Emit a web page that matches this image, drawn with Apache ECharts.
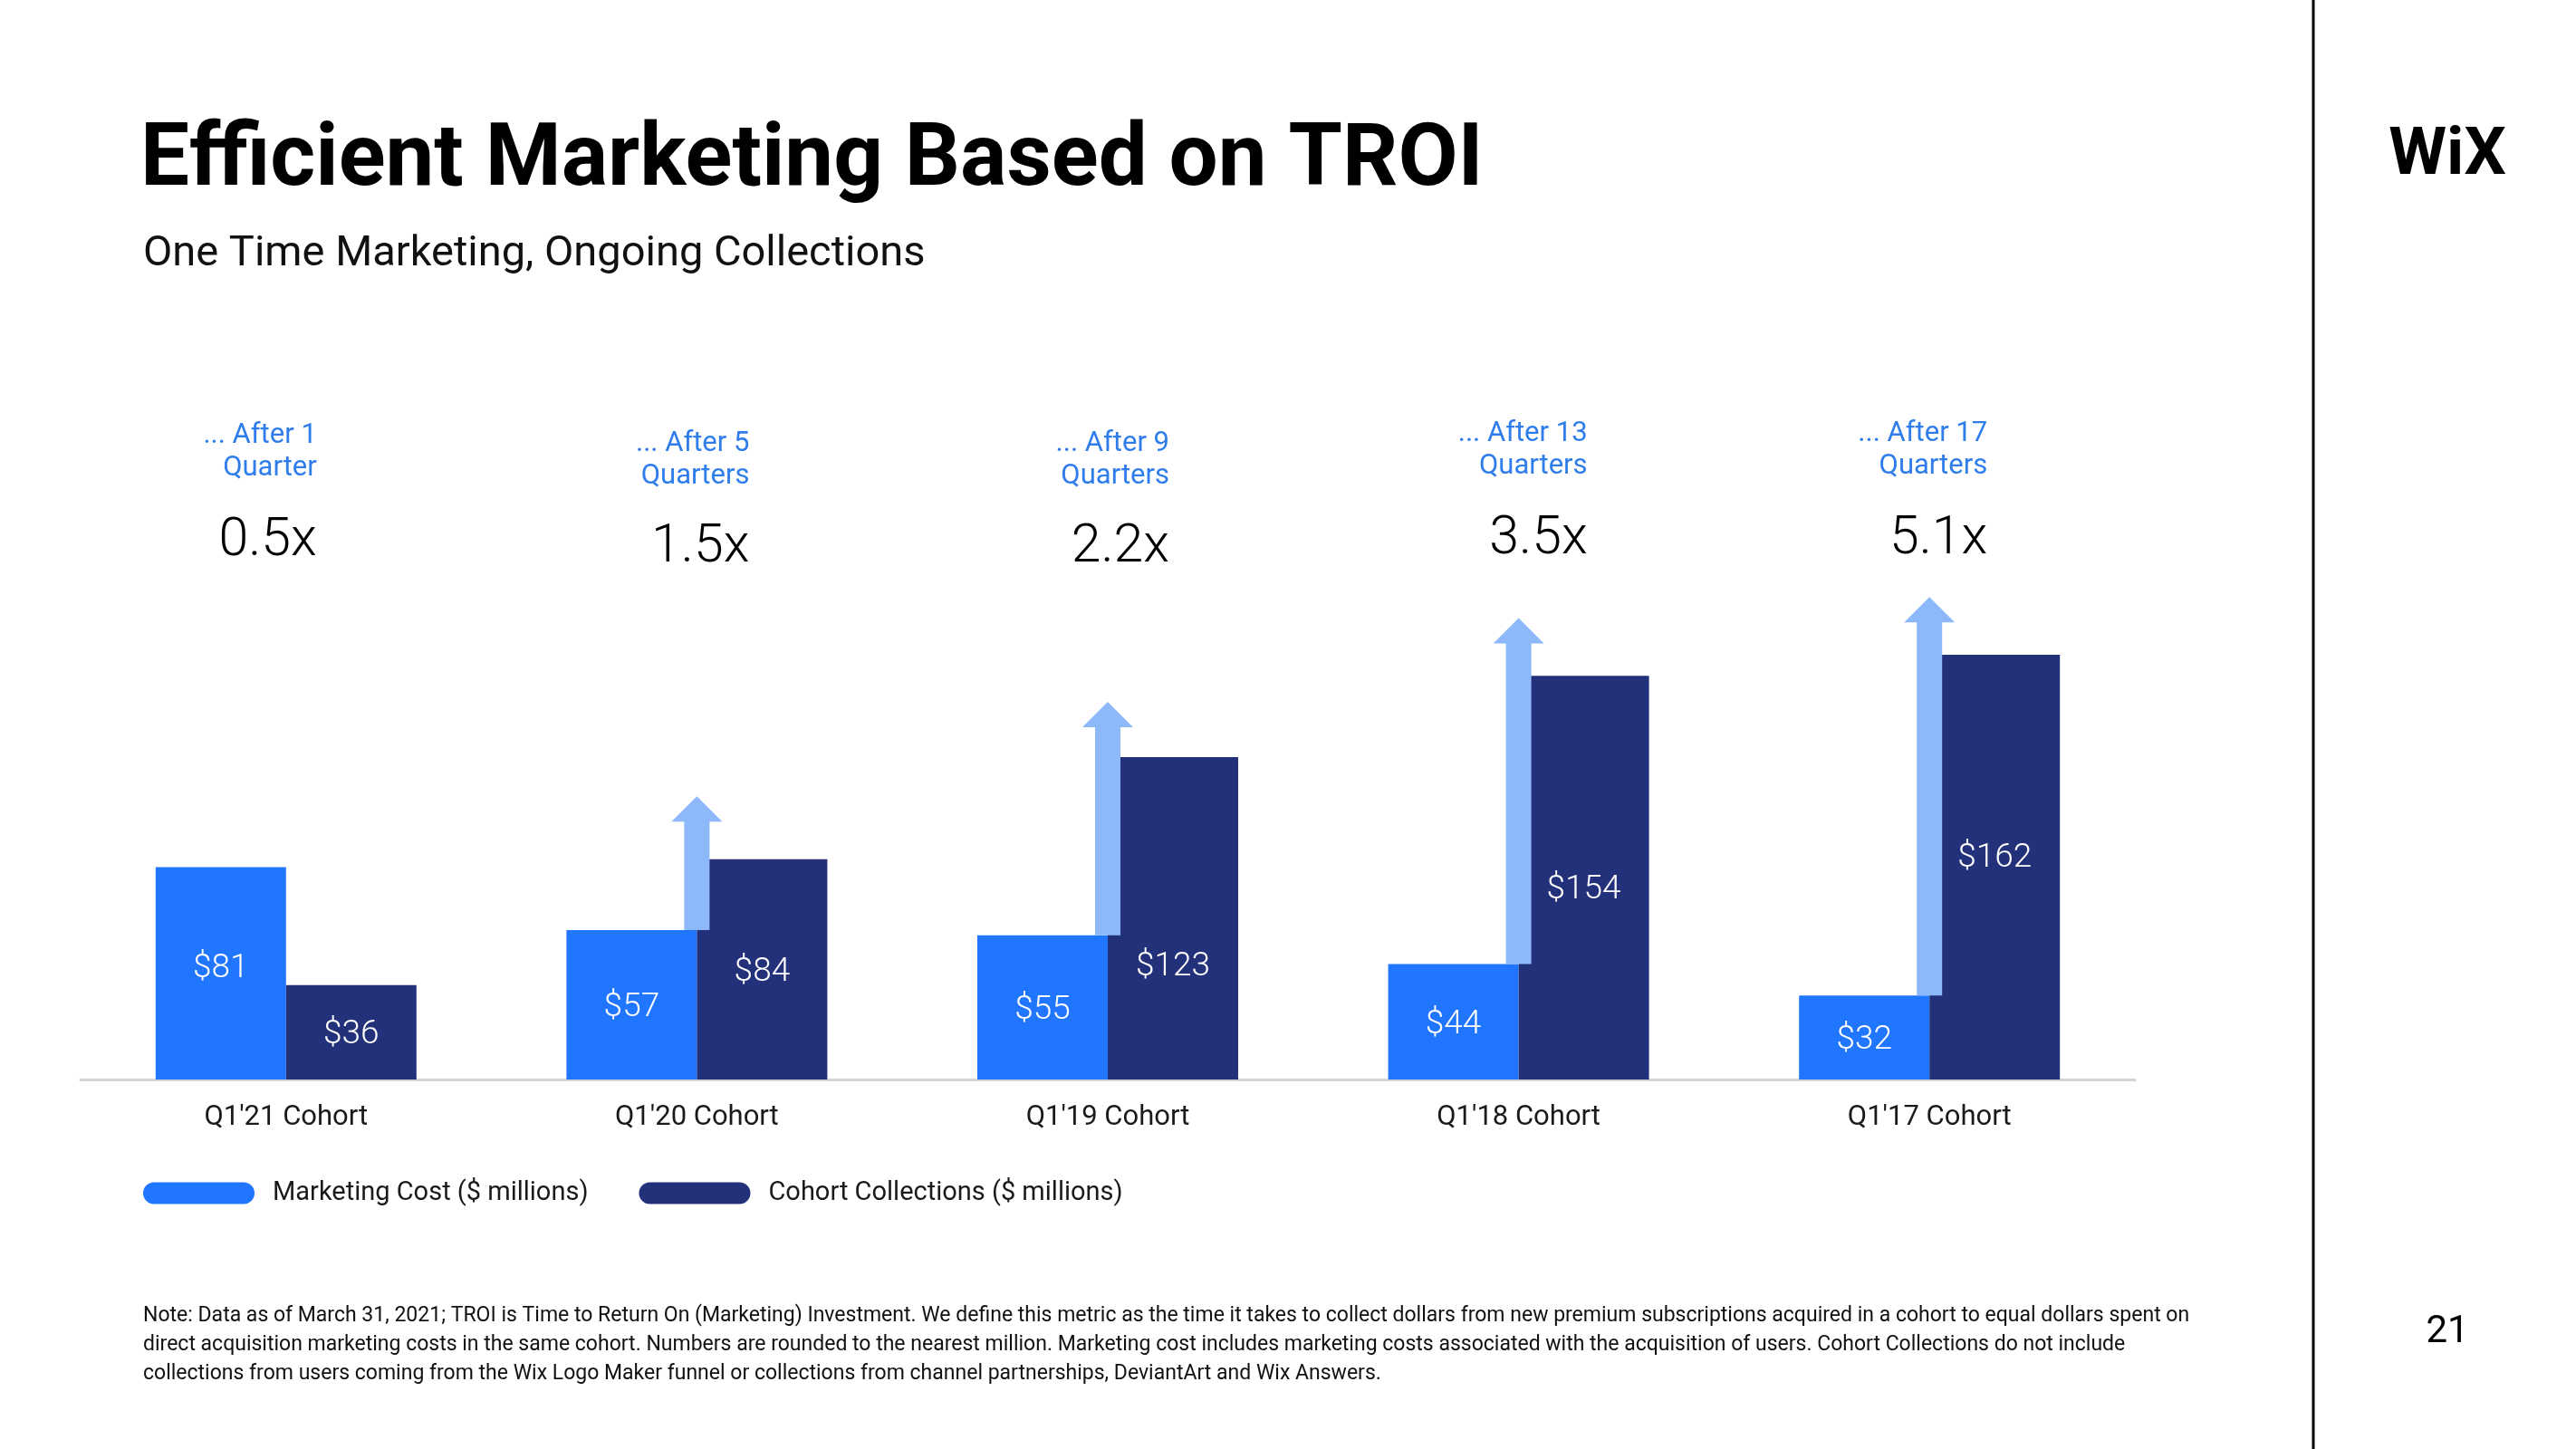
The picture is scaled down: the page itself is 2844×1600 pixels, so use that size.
<!DOCTYPE html>
<html><head><meta charset="utf-8">
<script src="https://cdn.jsdelivr.net/npm/echarts@6/dist/echarts.min.js"></script>
<style>html,body{margin:0;padding:0;background:#fff}#c{width:2844px;height:1600px}</style>
</head><body><div id="c"></div>
<script>
// ---- data ----
const categories = ["Q1'21 Cohort", "Q1'20 Cohort", "Q1'19 Cohort", "Q1'18 Cohort", "Q1'17 Cohort"];
const marketingCost = [81, 57, 55, 44, 32];
const cohortCollections = [36, 84, 123, 154, 162];
const arrowTops = [null, 108, 144, 176, 184];
const quartersAfter = [1, 5, 9, 13, 17];
const multiples = ["0.5x", "1.5x", "2.2x", "3.5x", "5.1x"];
const seriesNames = ["Marketing Cost ($ millions)", "Cohort Collections ($ millions)"];

// ---- layout / style (not data) ----
const FONT = 'Roboto';
const C_MKT = '#2176FF', C_COL = '#22317A', C_ARROW = '#8DB9FB', C_ANN = '#2E7DEB';
const annRightOffset = [34, 58, 68, 76, 64];   // px right of category centre
const annDy = [0, 9, 9, -2, -2];               // px vertical nudge of each annotation block
const mktLabelDy = [-8, 0, 0, 0, 0];
const colLabelDy = [0, 0, 51, 11, -13];

const chart = echarts.init(document.getElementById('c'), null, {renderer: 'canvas'});

const option = {
  backgroundColor: '#ffffff',
  animation: false,
  title: [
    {text: 'Efficient Marketing Based on TROI', left: 150, top: 127,
     textStyle: {fontFamily: FONT, fontWeight: 'bold', fontSize: 96, color: '#000'}},
    {text: 'One Time Marketing, Ongoing Collections', left: 153, top: 253,
     textStyle: {fontFamily: FONT, fontWeight: 'normal', fontSize: 47, color: '#111'}}
  ],
  legend: {
    data: seriesNames,
    left: 153, top: 1298,
    itemWidth: 123, itemHeight: 24, itemGap: 56,
    icon: 'path://M12,0L111,0A12,12,0,0,1,111,24L12,24A12,12,0,0,1,12,0Z',
    textStyle: {fontFamily: FONT, fontSize: 29, color: '#1a1a1a', padding: [0, 0, 0, 15]}
  },
  grid: {left: 89, right: 487, top: 613, bottom: 408, containLabel: false},
  xAxis: {
    type: 'category', data: categories,
    axisTick: {show: false},
    axisLine: {lineStyle: {color: '#d4d4d4', width: 3}},
    axisLabel: {fontFamily: FONT, fontSize: 31, color: '#1a1a1a', margin: 27}
  },
  yAxis: {type: 'value', min: 0, max: 200, show: false, splitLine: {show: false}},
  series: [
    {
      name: seriesNames[0], type: 'bar', barWidth: 144, barGap: '0%',
      itemStyle: {color: C_MKT},
      data: marketingCost.map((v, i) => ({value: v, label: {offset: [0, mktLabelDy[i] + 3]}})),
      label: {show: true, position: 'inside', formatter: '${c}', color: '#fff',
              fontFamily: FONT, fontSize: 37, fontWeight: 300},
      z: 2
    },
    {
      name: seriesNames[1], type: 'bar', barWidth: 144, barGap: '0%',
      itemStyle: {color: C_COL},
      data: cohortCollections.map((v, i) => ({value: v, label: {offset: [0, colLabelDy[i] + 3]}})),
      label: {show: true, position: 'inside', formatter: '${c}', color: '#fff',
              fontFamily: FONT, fontSize: 37, fontWeight: 300},
      z: 2
    },
    {
      name: 'arrows', type: 'custom', z: 3, silent: true,
      data: arrowTops.map((t, i) => t == null ? null : [i, marketingCost[i], t]).filter(d => d),
      renderItem: function (params, api) {
        const i = api.value(0);
        const p0 = api.coord([i, api.value(1)]);
        const p1 = api.coord([i, api.value(2)]);
        const cx = p0[0], sw = 14, hw = 28, hh = 28;
        return {
          type: 'polygon',
          shape: {points: [[cx - sw, p0[1]], [cx - sw, p1[1] + hh], [cx - hw, p1[1] + hh], [cx, p1[1]],
                           [cx + hw, p1[1] + hh], [cx + sw, p1[1] + hh], [cx + sw, p0[1]]]},
          style: {fill: C_ARROW}
        };
      }
    }
  ]
};
chart.setOption(option);

// ---- annotations and page furniture ----
const g = [];
categories.forEach((c, i) => {
  const cx = chart.convertToPixel({xAxisIndex: 0}, c);
  const rx = cx + annRightOffset[i];
  const dy = annDy[i];
  g.push({type: 'text', x: rx, y: 481 + dy, style: {
    text: '... After ' + quartersAfter[i], align: 'right', verticalAlign: 'middle',
    font: '31px ' + FONT, fill: C_ANN}});
  g.push({type: 'text', x: rx, y: 517 + dy, style: {
    text: quartersAfter[i] === 1 ? 'Quarter' : 'Quarters', align: 'right', verticalAlign: 'middle',
    font: '31px ' + FONT, fill: C_ANN}});
  g.push({type: 'text', x: rx, y: 598 + dy * 0.8, style: {
    text: multiples[i], align: 'right', verticalAlign: 'middle',
    font: '300 59px ' + FONT, fill: '#000'}});
});
g.push({type: 'line', shape: {x1: 2554, y1: 0, x2: 2554, y2: 1600}, style: {stroke: '#000', lineWidth: 3}});
g.push({type: 'text', x: 2702, y: 174, style: {text: 'WiX', align: 'center', verticalAlign: 'middle',
  font: 'bold 73px ' + FONT, fill: '#000'}});
g.push({type: 'text', x: 2702, y: 1471, style: {text: '21', align: 'center', verticalAlign: 'middle',
  font: '42px ' + FONT, fill: '#000'}});
g.push({type: 'text', x: 158, y: 1437, style: {
  text: 'Note: Data as of March 31, 2021; TROI is Time to Return On (Marketing) Investment. We define this metric as the time it takes to collect dollars from new premium subscriptions acquired in a cohort to equal dollars spent on\n' +
        'direct acquisition marketing costs in the same cohort. Numbers are rounded to the nearest million. Marketing cost includes marketing costs associated with the acquisition of users. Cohort Collections do not include\n' +
        'collections from users coming from the Wix Logo Maker funnel or collections from channel partnerships, DeviantArt and Wix Answers.',
  align: 'left', verticalAlign: 'top', lineHeight: 32, font: '23px ' + FONT, fill: '#111'}});
chart.setOption({graphic: g});
</script>
</body></html>
